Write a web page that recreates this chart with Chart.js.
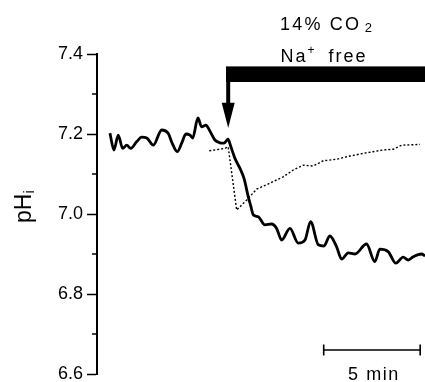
<!DOCTYPE html>
<html>
<head>
<meta charset="utf-8">
<script src="https://cdn.jsdelivr.net/npm/chart.js@4"></script>
<style>
  html, body { margin: 0; padding: 0; background: #fff; }
  #wrap { width: 425px; height: 382px; position: relative; }
</style>
</head>
<body>
<div id="wrap"><canvas id="chart"></canvas></div>
<script>
// y ticks (major labelled, minor every 0.1)
const yTicks = [6.6, 6.8, 7.0, 7.2, 7.4];

// time in min, pHi
const solidTime = [0.67, 0.88, 1.10, 1.33, 1.54, 1.75, 2.06, 2.32, 2.58, 2.92, 3.35, 3.69, 3.87, 4.16, 4.39,
  4.61, 4.82, 4.96, 5.23, 5.42, 5.65, 5.82, 6.11, 6.37, 6.58, 6.79, 6.94, 7.15, 7.41, 7.62, 7.84, 7.97,
  8.10, 8.36, 8.70, 9.05, 9.31, 9.57, 10.0, 10.43, 10.78, 11.07, 11.47, 11.76, 12.07, 12.42, 12.68,
  13.02, 13.37, 13.97, 14.40, 14.66, 15.09, 15.49, 15.87, 16.13, 16.39, 16.82, 17.0];
const solidPH = [7.202, 7.16, 7.197, 7.164, 7.172, 7.164, 7.181, 7.192, 7.19, 7.172, 7.21, 7.202, 7.18, 7.156, 7.177,
  7.2, 7.197, 7.19, 7.24, 7.218, 7.222, 7.21, 7.185, 7.178, 7.177, 7.187, 7.168, 7.139, 7.114, 7.089, 7.043, 7.02,
  6.998, 6.993, 6.973, 6.975, 6.964, 6.935, 6.964, 6.927, 6.935, 6.981, 6.923, 6.92, 6.945, 6.918, 6.887,
  6.903, 6.90, 6.925, 6.881, 6.912, 6.906, 6.877, 6.892, 6.885, 6.893, 6.90, 6.895];

const dottedTime = [5.82, 6.63, 6.80, 7.24, 7.76, 8.27, 8.96, 9.65, 10.17, 10.69, 11.21, 11.73, 12.42, 13.11,
  13.97, 14.83, 15.36, 15.79, 16.74];
const dottedPH = [7.158, 7.164, 7.168, 7.01, 7.035, 7.062, 7.077, 7.093, 7.11, 7.122, 7.12, 7.133, 7.137, 7.145,
  7.153, 7.16, 7.162, 7.172, 7.174];

// annotations
const treatmentStart = 6.8;          // min, arrow
const barRange = [7.33, 7.369];      // pH units of the black bar
const arrowHead = [7.215, 7.278];    // tip, base
const scaleBar = [11.75, 16.75];     // 5 min
const scaleBarY = 6.66;

const FONT = '"Liberation Sans", Arial, sans-serif';
const isMajor = v => yTicks.some(t => Math.abs(t - v) < 1e-6);

function drawRuns(ctx, runs, cx, baseline, align) {
  // runs: [text, size, dy, spacing]
  let total = 0;
  runs.forEach(r => { ctx.font = r[1] + 'px ' + FONT; ctx.letterSpacing = r[3] + 'px'; total += ctx.measureText(r[0]).width; });
  let xx = align === 'left' ? cx : cx - total / 2;
  runs.forEach(r => {
    ctx.font = r[1] + 'px ' + FONT; ctx.letterSpacing = r[3] + 'px';
    ctx.fillText(r[0], xx, baseline + r[2]);
    xx += ctx.measureText(r[0]).width;
  });
  ctx.letterSpacing = '0px';
}

const overlay = {
  id: 'overlay',
  afterDraw(chart) {
    const { ctx, chartArea: a, scales: { x, y } } = chart;
    ctx.save();
    ctx.fillStyle = '#000';
    ctx.strokeStyle = '#000';
    ctx.textAlign = 'left';

    // minor ticks
    ctx.lineWidth = 1.5;
    y.ticks.forEach(t => {
      if (isMajor(t.value)) return;
      const py = y.getPixelForValue(t.value);
      ctx.beginPath(); ctx.moveTo(a.left - 5, py); ctx.lineTo(a.left, py); ctx.stroke();
    });

    // y title pH(i), reads bottom to top
    ctx.save();
    ctx.translate(31, 223);
    ctx.rotate(-Math.PI / 2);
    ctx.textBaseline = 'alphabetic';
    drawRuns(ctx, [['pH', 23, 0, 0], ['i', 15, 3, 0]], 0, 0, 'left');
    ctx.restore();

    // treatment bar and arrow
    const ax = x.getPixelForValue(treatmentStart);
    const barTop = y.getPixelForValue(barRange[1]);
    const barBot = y.getPixelForValue(barRange[0]);
    ctx.fillRect(ax - 2.2, barTop, a.right - ax + 2.2, barBot - barTop);
    const headBase = y.getPixelForValue(arrowHead[1]);
    const tip = y.getPixelForValue(arrowHead[0]);
    ctx.lineWidth = 4;
    ctx.beginPath(); ctx.moveTo(ax, barBot - 1); ctx.lineTo(ax, headBase + 2); ctx.stroke();
    ctx.beginPath();
    ctx.moveTo(ax - 6.5, headBase); ctx.lineTo(ax + 6.5, headBase); ctx.lineTo(ax, tip);
    ctx.closePath(); ctx.fill();

    // header text
    ctx.textBaseline = 'alphabetic';
    drawRuns(ctx, [['14% CO', 18, 0, 2.2], [' 2', 13, 2.5, 0]], 326, 29.5);
    drawRuns(ctx, [['Na', 18, 0, 2], ['+', 12, -8, 0], ['  free', 18, 0, 2]], 324, 62);

    // scale bar
    const sx0 = x.getPixelForValue(scaleBar[0]);
    const sx1 = x.getPixelForValue(scaleBar[1]);
    const sy = y.getPixelForValue(scaleBarY);
    ctx.lineWidth = 1.6;
    ctx.beginPath();
    ctx.moveTo(sx0, sy); ctx.lineTo(sx1, sy);
    ctx.moveTo(sx0, sy - 5.5); ctx.lineTo(sx0, sy + 5.5);
    ctx.moveTo(sx1, sy - 5.5); ctx.lineTo(sx1, sy + 5.5);
    ctx.stroke();
    drawRuns(ctx, [['5 min', 18, 0, 1.6]], (sx0 + sx1) / 2 + 2, 380);
    ctx.restore();
  }
};

new Chart(document.getElementById('chart'), {
  type: 'line',
  data: {
    datasets: [
      {
        data: solidTime.map((t, i) => ({ x: t, y: solidPH[i] })),
        borderColor: '#000', borderWidth: 2.8, pointRadius: 0,
        cubicInterpolationMode: 'monotone'
      },
      {
        data: dottedTime.map((t, i) => ({ x: t, y: dottedPH[i] })),
        borderColor: '#000', borderWidth: 1.4, borderDash: [2, 2], pointRadius: 0,
        tension: 0
      }
    ]
  },
  options: {
    responsive: true,
    maintainAspectRatio: false,
    animation: false,
    layout: { padding: { top: 54, bottom: 8, left: 0, right: 0 } },
    plugins: { legend: { display: false }, tooltip: { enabled: false } },
    scales: {
      x: { type: 'linear', min: 0, max: 17, display: false },
      y: {
        min: 6.6, max: 7.4,
        afterFit(s) { s.width = 97; s.paddingTop = 0; s.paddingBottom = 0; },
        border: { display: true, color: '#000', width: 2 },
        grid: {
          drawOnChartArea: false, tickLength: 10, tickWidth: 1.5,
          tickColor: c => (c.tick && isMajor(c.tick.value)) ? '#000' : 'rgba(0,0,0,0)'
        },
        ticks: {
          stepSize: 0.1, padding: 4, color: '#000', autoSkip: false,
          font: { family: FONT, size: 18 },
          callback: v => isMajor(v) ? v.toFixed(1) : ''
        }
      }
    }
  },
  plugins: [overlay]
});
</script>
</body>
</html>
